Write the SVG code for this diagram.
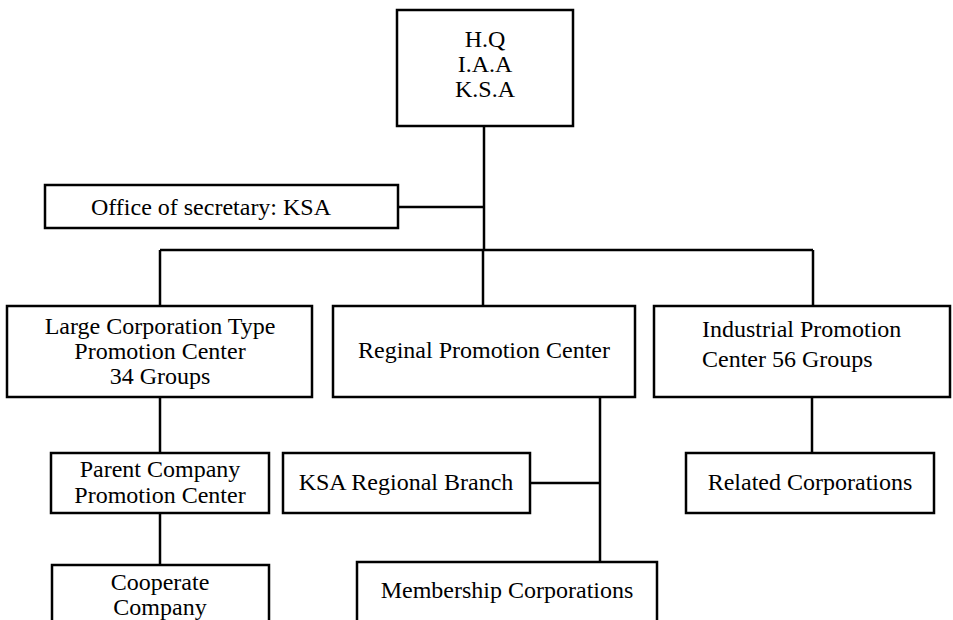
<svg xmlns="http://www.w3.org/2000/svg" width="953" height="620" viewBox="0 0 953 620">
<style>
rect{fill:#fff;stroke:#000;stroke-width:2.5}
text{font-family:"Liberation Serif","Times New Roman",serif;font-size:24px;fill:#000;text-anchor:middle}
.l{text-anchor:start}
#conn line{stroke:#000;stroke-width:2.5}
</style>
<rect x="0" y="0" width="953" height="620" style="stroke:none"/>
<g id="conn">
<line x1="484" y1="126" x2="484" y2="250"/>
<line x1="398" y1="207" x2="484" y2="207"/>
<line x1="160" y1="250" x2="813" y2="250"/>
<line x1="160" y1="250" x2="160" y2="306"/>
<line x1="483" y1="250" x2="483" y2="306"/>
<line x1="813" y1="250" x2="813" y2="306"/>
<line x1="160" y1="397" x2="160" y2="453"/>
<line x1="160" y1="513" x2="160" y2="565"/>
<line x1="600" y1="397" x2="600" y2="562"/>
<line x1="530" y1="483" x2="600" y2="483"/>
<line x1="812" y1="397" x2="812" y2="453"/>
</g>
<g id="hq"><rect x="397" y="10" width="176" height="116"/>
<text x="485" y="47">H.Q</text><text x="485" y="72">I.A.A</text><text x="485" y="97">K.S.A</text></g>
<g id="office"><rect x="45" y="185" width="353" height="43"/>
<text x="211" y="215">Office of secretary: KSA</text></g>
<g id="large"><rect x="7" y="306" width="305" height="91"/>
<text x="160" y="334">Large Corporation Type</text><text x="160" y="359">Promotion Center</text><text x="160" y="384">34 Groups</text></g>
<g id="regional"><rect x="333" y="306" width="302" height="91"/>
<text x="484" y="358">Reginal Promotion Center</text></g>
<g id="industrial"><rect x="654" y="306" width="296" height="91"/>
<text class="l" x="702" y="337">Industrial Promotion</text><text class="l" x="702" y="367">Center 56 Groups</text></g>
<g id="parent"><rect x="51" y="453" width="218" height="60"/>
<text x="160" y="477">Parent Company</text><text x="160" y="503">Promotion Center</text></g>
<g id="ksabranch"><rect x="283" y="453" width="247" height="60"/>
<text x="406" y="490">KSA Regional Branch</text></g>
<g id="related"><rect x="686" y="453" width="248" height="60"/>
<text x="810" y="490">Related Corporations</text></g>
<g id="cooperate"><rect x="52" y="565" width="217" height="70"/>
<text x="160" y="590">Cooperate</text><text x="160" y="615">Company</text></g>
<g id="membership"><rect x="357" y="562" width="300" height="70"/>
<text x="507" y="598">Membership Corporations</text></g>
</svg>
